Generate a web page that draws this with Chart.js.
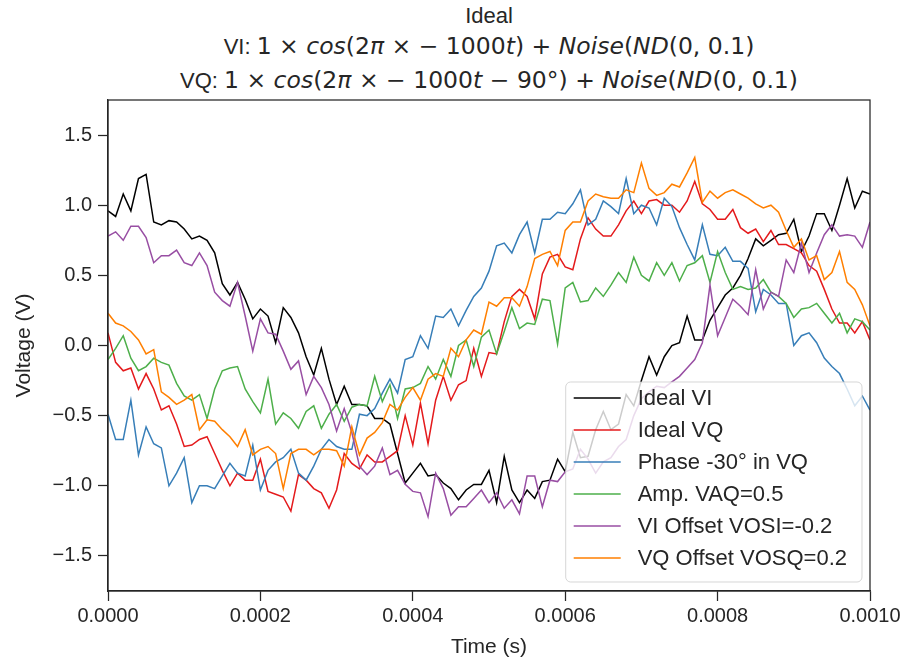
<!DOCTYPE html>
<html>
<head>
<meta charset="utf-8">
<script src="https://cdn.jsdelivr.net/npm/chart.js@4"></script>
<style>
  body { margin: 0; background: #fff; }
  #wrap { position: relative; width: 907px; height: 665px; overflow: hidden; }
  .tl { position: absolute; left: 89px; width: 800px; text-align: center; color: #262626;
        font-family: "Liberation Sans", Arial, sans-serif; font-size: 22px; white-space: nowrap; }
  .m { font-family: "DejaVu Sans", sans-serif; font-size: 23.5px; }
  .m i { font-style: italic; }
</style>
</head>
<body>
<div id="wrap">
  <div class="tl" style="top:3px;line-height:26px">Ideal</div>
  <div class="tl" style="top:31px;line-height:30px">VI: <span class="m">1 × <i>cos</i>(2<i>π</i> × − 1000<i>t</i>) + <i>Noise</i>(<i>ND</i>(0, 0.1)</span></div>
  <div class="tl" style="top:65px;line-height:30px">VQ: <span class="m">1 × <i>cos</i>(2<i>π</i> × − 1000<i>t</i> − 90°) + <i>Noise</i>(<i>ND</i>(0, 0.1)</span></div>
  <canvas id="chart" width="907" height="665" style="position:absolute;left:0;top:0"></canvas>
</div>
<script>
// ── Data ────────────────────────────────────────────────────────
const N_SAMPLES = 101;
const time = Array.from({ length: N_SAMPLES }, (_, i) => i * 1e-5);  // 0 .. 0.001 s

const idealVI = [
  0.96, 0.92, 1.08, 0.96, 1.19, 1.22, 0.88, 0.86, 0.89, 0.88,
  0.83, 0.76, 0.78, 0.75, 0.66, 0.44, 0.36, 0.45, 0.33, 0.19,
  0.26, 0.21, 0.02, 0.27, 0.20, 0.09, -0.08, -0.21, -0.02, -0.24,
  -0.42, -0.29, -0.42, -0.42, -0.43, -0.52, -0.52, -0.56, -0.77, -0.98,
  -0.91, -0.84, -0.93, -0.92, -0.98, -1.02, -1.10, -1.03, -0.99, -0.99,
  -0.89, -1.12, -0.79, -1.03, -1.12, -1.03, -1.09, -0.97, -0.96, -0.81,
  -0.90, -0.62, -0.80, -0.79, -0.60, -0.47, -0.60, -0.56, -0.35, -0.43,
  -0.25, -0.08, -0.21, -0.08, 0.00, 0.02, 0.21, 0.04, 0.04, 0.18,
  0.27, 0.36, 0.41, 0.50, 0.62, 0.76, 0.71, 0.75, 0.79, 0.80,
  0.90, 0.67, 0.78, 0.94, 0.94, 0.82, 1.00, 1.19, 0.98, 1.10,
  1.08,
];
const idealVQ = [
  0.09, -0.12, -0.18, -0.16, -0.31, -0.20, -0.31, -0.46, -0.43, -0.56,
  -0.72, -0.71, -0.67, -0.65, -0.77, -0.89, -1.00, -0.91, -0.96, -0.96,
  -0.81, -1.04, -1.06, -1.08, -1.18, -0.92, -0.96, -1.02, -1.05, -1.16,
  -1.03, -0.77, -0.84, -0.88, -0.78, -0.83, -0.83, -0.79, -0.75, -0.50,
  -0.71, -0.41, -0.70, -0.39, -0.22, -0.39, -0.28, -0.25, -0.02, -0.22,
  -0.05, -0.06, 0.17, 0.35, 0.40, 0.35, 0.19, 0.51, 0.63, 0.65,
  0.56, 0.54, 0.76, 0.91, 0.83, 0.78, 0.78, 0.86, 0.96, 1.03,
  0.94, 1.03, 1.04, 1.00, 1.00, 0.95, 1.03, 1.17, 1.01, 0.97,
  0.90, 0.90, 0.97, 0.84, 0.80, 0.83, 0.74, 0.82, 0.72, 0.72,
  0.69, 0.66, 0.57, 0.53, 0.40, 0.26, 0.16, 0.16, 0.09, 0.17,
  0.04,
];
const phaseVQ = [
  -0.49, -0.67, -0.67, -0.39, -0.78, -0.58, -0.70, -0.73, -1.00, -0.91,
  -0.80, -1.12, -1.00, -1.00, -1.02, -0.93, -0.84, -0.91, -0.93, -0.71,
  -1.03, -0.89, -0.83, -0.80, -0.74, -0.91, -0.96, -0.86, -0.74, -0.67,
  -0.72, -0.74, -0.74, -0.49, -0.50, -0.45, -0.34, -0.24, -0.34, -0.10,
  -0.08, 0.07, -0.02, 0.21, 0.20, 0.26, 0.14, 0.25, 0.35, 0.41,
  0.53, 0.71, 0.73, 0.66, 0.79, 0.88, 0.66, 0.90, 0.90, 0.95,
  0.94, 1.01, 1.11, 0.86, 0.90, 1.03, 0.99, 0.94, 1.19, 0.94,
  1.00, 0.98, 0.86, 1.05, 0.99, 0.84, 0.72, 0.61, 0.86, 0.65,
  0.64, 0.70, 0.60, 0.60, 0.55, 0.24, 0.40, 0.36, 0.30, 0.30,
  0.00, 0.07, 0.09, 0.02, -0.09, -0.15, -0.20, -0.31, -0.43, -0.36,
  -0.46,
];
const ampVAQ = [
  -0.10, -0.02, 0.07, -0.09, -0.18, -0.15, -0.09, -0.12, -0.14, -0.27,
  -0.36, -0.39, -0.35, -0.52, -0.31, -0.18, -0.16, -0.15, -0.31, -0.40,
  -0.48, -0.24, -0.56, -0.48, -0.52, -0.59, -0.47, -0.43, -0.59, -0.49,
  -0.42, -0.54, -0.44, -0.42, -0.43, -0.22, -0.40, -0.28, -0.52, -0.31,
  -0.30, -0.27, -0.15, -0.24, -0.10, -0.22, 0.00, 0.04, -0.15, 0.06,
  0.11, -0.06, 0.10, 0.27, 0.12, 0.16, 0.15, 0.33, 0.32, 0.01,
  0.41, 0.45, 0.31, 0.32, 0.41, 0.35, 0.43, 0.52, 0.45, 0.63,
  0.50, 0.46, 0.59, 0.50, 0.59, 0.46, 0.57, 0.59, 0.64, 0.45,
  0.67, 0.52, 0.40, 0.42, 0.40, 0.41, 0.47, 0.38, 0.35, 0.30,
  0.20, 0.26, 0.27, 0.30, 0.23, 0.16, 0.23, 0.09, 0.19, 0.17,
  0.11,
];
const offsetVI = [
  0.78, 0.81, 0.75, 0.85, 0.85, 0.77, 0.59, 0.64, 0.64, 0.68,
  0.59, 0.57, 0.66, 0.57, 0.38, 0.32, 0.28, 0.45, 0.21, -0.04,
  0.19, 0.09, 0.08, -0.04, -0.17, -0.11, -0.35, -0.22, -0.30, -0.42,
  -0.61, -0.45, -0.62, -0.86, -0.92, -0.86, -0.73, -0.92, -0.89, -0.99,
  -1.04, -1.05, -1.22, -0.91, -1.02, -1.21, -1.15, -1.15, -1.09, -1.03,
  -1.12, -1.05, -1.16, -1.10, -1.20, -0.93, -0.93, -1.15, -0.96, -0.97,
  -0.90, -0.88, -0.74, -0.81, -0.91, -0.83, -0.80, -0.72, -0.67, -0.50,
  -0.38, -0.33, -0.29, -0.30, -0.26, -0.22, -0.16, -0.10, 0.02, 0.43,
  0.07, 0.20, 0.33, 0.28, 0.22, 0.54, 0.26, 0.38, 0.35, 0.61,
  0.52, 0.73, 0.52, 0.66, 0.79, 0.86, 0.78, 0.79, 0.78, 0.70,
  0.88,
];
const offsetVQ = [
  0.23, 0.16, 0.14, 0.10, 0.04, -0.06, -0.03, -0.33, -0.37, -0.42,
  -0.39, -0.35, -0.60, -0.53, -0.54, -0.60, -0.65, -0.72, -0.60, -0.78,
  -0.74, -0.72, -0.77, -1.02, -0.77, -0.74, -0.74, -0.78, -0.74, -0.74,
  -0.75, -0.86, -0.58, -0.78, -0.66, -0.62, -0.55, -0.42, -0.46, -0.37,
  -0.30, -0.39, -0.24, -0.20, -0.22, -0.02, -0.08, 0.04, 0.11, 0.08,
  0.31, 0.28, 0.34, 0.34, 0.28, 0.42, 0.62, 0.65, 0.67, 0.57,
  0.82, 0.88, 0.88, 1.03, 1.08, 1.06, 1.05, 1.05, 1.11, 1.09,
  1.30, 1.12, 1.07, 1.09, 1.15, 1.13, 1.23, 1.34, 1.02, 1.10,
  1.05, 1.09, 1.11, 1.08, 1.05, 1.01, 0.98, 1.00, 0.95, 0.82,
  0.70, 0.76, 0.61, 0.64, 0.47, 0.52, 0.67, 0.45, 0.40, 0.29,
  0.14,
];

const seriesLabels = ['Ideal VI', 'Ideal VQ', 'Phase -30° in VQ', 'Amp. VAQ=0.5', 'VI Offset VOSI=-0.2', 'VQ Offset VOSQ=0.2'];
const seriesValues = [idealVI, idealVQ, phaseVQ, ampVAQ, offsetVI, offsetVQ];
const seriesColors = ['#000000', '#e41a1c', '#377eb8', '#4daf4a', '#984ea3', '#ff7f00'];

const xTicks = [0, 0.0002, 0.0004, 0.0006, 0.0008, 0.001];
const yTicks = [-1.5, -1.0, -0.5, 0.0, 0.5, 1.0, 1.5];

// ── Styling ─────────────────────────────────────────────────────
const INK = '#262626';
const FONT = '"Liberation Sans", Arial, sans-serif';

// Box around the plot + matplotlib-style legend in the lower right.
const frameAndLegend = {
  id: 'frameAndLegend',
  afterDatasetsDraw(chart) {
    const { ctx, chartArea: a } = chart;
    const sets = chart.data.datasets;
    ctx.save();

    ctx.font = `22px ${FONT}`;
    const textW = Math.max(...sets.map(d => ctx.measureText(d.label).width));
    const rowH = 32, padL = 8, handle = 47, gap = 17, padR = 15;
    const w = padL + handle + gap + textW + padR;
    const h = rowH * sets.length + 8;
    const x0 = a.right - 8 - w, y0 = a.bottom - 9 - h;

    ctx.beginPath();
    ctx.roundRect(x0, y0, w, h, 5);
    ctx.fillStyle = 'rgba(255,255,255,0.8)';
    ctx.fill();
    ctx.strokeStyle = 'rgba(204,204,204,0.8)';
    ctx.lineWidth = 1;
    ctx.stroke();

    ctx.textBaseline = 'middle';
    ctx.textAlign = 'left';
    sets.forEach((d, i) => {
      const cy = y0 + 16 + i * rowH;
      ctx.beginPath();
      ctx.moveTo(x0 + padL, cy);
      ctx.lineTo(x0 + padL + handle, cy);
      ctx.strokeStyle = d.borderColor;
      ctx.lineWidth = 1.5;
      ctx.stroke();
      ctx.fillStyle = INK;
      ctx.fillText(d.label, x0 + padL + handle + gap, cy + 1);
    });

    ctx.strokeStyle = INK;
    ctx.lineWidth = 1.25;
    ctx.strokeRect(a.left, a.top, a.right - a.left, a.bottom - a.top);
    ctx.restore();
  },
};

new Chart(document.getElementById('chart'), {
  type: 'line',
  data: {
    datasets: seriesValues.map((vals, k) => ({
      label: seriesLabels[k],
      data: time.map((t, i) => ({ x: t, y: vals[i] })),
      borderColor: seriesColors[k],
      borderWidth: 1.5,
      pointRadius: 0,
      tension: 0,
      fill: false,
      order: seriesValues.length - k,   // later series on top, like matplotlib
    })),
  },
  options: {
    responsive: false,
    animation: false,
    devicePixelRatio: 1,
    layout: { padding: { left: 0, right: 37, top: 100, bottom: 0 } },
    plugins: { legend: { display: false }, tooltip: { enabled: false } },
    scales: {
      x: {
        type: 'linear',
        min: 0,
        max: 0.001,
        afterFit: s => { s.height = 74; },
        afterBuildTicks: s => { s.ticks = xTicks.map(v => ({ value: v })); },
        grid: { drawOnChartArea: false, drawTicks: true, tickLength: 10, tickWidth: 1.25, tickColor: INK },
        border: { display: true, color: INK, width: 1.25 },
        ticks: { color: INK, font: { family: FONT, size: 20 }, padding: 3, maxRotation: 0,
                 callback: v => v.toFixed(4) },
        title: { display: true, text: 'Time (s)', color: INK, font: { family: FONT, size: 21 },
                 padding: { top: 0, bottom: 5 } },
      },
      y: {
        min: -1.75,
        max: 1.75,
        afterFit: s => { s.width = 108; },
        afterBuildTicks: s => { s.ticks = yTicks.map(v => ({ value: v })); },
        grid: { drawOnChartArea: false, drawTicks: true, tickLength: 10, tickWidth: 1.25, tickColor: INK },
        border: { display: true, color: INK, width: 1.25 },
        ticks: { color: INK, font: { family: FONT, size: 20 }, padding: 6,
                 callback: v => v.toFixed(1).replace('-', '\u2212') },
        title: { display: true, text: 'Voltage (V)', color: INK, font: { family: FONT, size: 21 },
                 padding: { top: 12, bottom: 0 } },
      },
    },
  },
  plugins: [frameAndLegend],
});
</script>
</body>
</html>
